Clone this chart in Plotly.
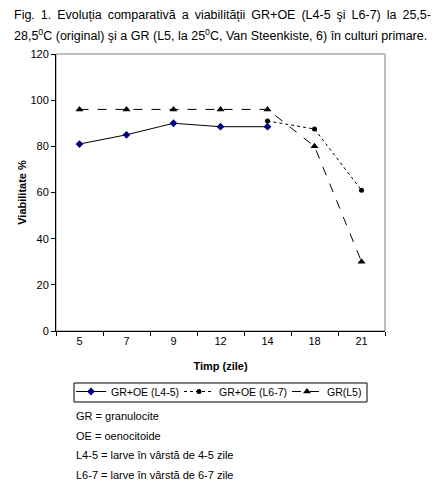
import plotly.graph_objects as go

zile = ["5", "7", "9", "12", "14", "18", "21"]
gr_oe_l45 = [81, 85, 90, 88.5, 88.5, None, None]
gr_oe_l67 = [None, None, None, None, 91, 87.5, 61]
gr_l5 = [96, 96, 96, 96, 96, 80, 30]

note = [
    "GR = granulocite",
    "OE = oenocitoide",
    "L4-5 = larve în vârstă de 4-5 zile",
    "L6-7 = larve în vârstă de 6-7 zile",
]

font = "Liberation Sans, Arial, sans-serif"

fig = go.Figure()
fig.add_trace(go.Scatter(x=zile, y=gr_oe_l45, name="GR+OE (L4-5)", mode="lines+markers",
                         line=dict(color="black", width=1),
                         marker=dict(symbol="diamond", size=6, color="#000080")))
fig.add_trace(go.Scatter(x=zile, y=gr_oe_l67, name="GR+OE (L6-7)", mode="lines+markers",
                         line=dict(color="black", width=1, dash="dot"),
                         marker=dict(symbol="circle", size=5, color="black")))
fig.add_trace(go.Scatter(x=zile, y=gr_l5, name="GR(L5)", mode="lines+markers",
                         line=dict(color="black", width=1, dash="dash"),
                         marker=dict(symbol="triangle-up", size=7, color="black")))

# pagina are margine de 8px, deci figura e mai mica cu 8px
fig.update_layout(
    width=439, height=477,
    margin=dict(l=48, r=62, t=46, b=154),
    paper_bgcolor="white", plot_bgcolor="white",
    font=dict(family=font, size=11, color="black"),
    showlegend=True,
    legend=dict(orientation="h", x=15 / 329, y=-46 / 277, xanchor="left", yanchor="top",
                bgcolor="rgba(0,0,0,0)", borderwidth=0, font=dict(size=10.5),
                itemwidth=30, entrywidth=63, tracegroupgap=0),
    xaxis=dict(type="category", range=[-0.5, 6.5], showline=True, linecolor="black",
               ticks="outside", ticklen=4, tickcolor="black", tickson="boundaries",
               showgrid=False, zeroline=False,
               title=dict(text="<b>Timp (zile)</b>", font=dict(size=11), standoff=16)),
    yaxis=dict(range=[0, 120], dtick=20, showline=True, linecolor="black",
               ticks="outside", ticklen=4, tickcolor="black", showgrid=False,
               zeroline=False,
               title=dict(text="<b>Viabilitate %</b>", font=dict(size=11), standoff=1)),
)

# chenarul legendei
fig.add_shape(type="rect", xref="paper", yref="paper", x0=18 / 329, x1=311 / 329,
              y0=-71 / 277, y1=-52 / 277, line=dict(color="black", width=1))
# chenar gri sus si dreapta
fig.add_shape(type="rect", xref="paper", yref="paper", x0=0, y0=0, x1=1, y1=1,
              line=dict(color="#808080", width=1), layer="below")

titlu = [
    "Fig. 1. Evoluția comparativă a viabilității GR+OE (L4-5 şi L6-7) la 25,5-".replace(" ", " \u2009"),
    "28,5<sup>0</sup>C (original) şi a GR (L5, la 25<sup>0</sup>C, Van Steenkiste, 6) în culturi primare.",
]
for i, t in enumerate(titlu):
    fig.add_annotation(text=t, xref="paper", yref="paper", x=-44 / 329, y=1 + (30 - 21 * i) / 277,
                       xanchor="left", yanchor="bottom", showarrow=False,
                       font=dict(size=12.5, family=font))

for i, t in enumerate(note):
    fig.add_annotation(text=t, xref="paper", yref="paper", x=18 / 329, y=-(85 + 19.7 * i) / 277,
                       xanchor="left", yanchor="middle", showarrow=False,
                       font=dict(size=11, family=font))

fig.write_html("out.html")
